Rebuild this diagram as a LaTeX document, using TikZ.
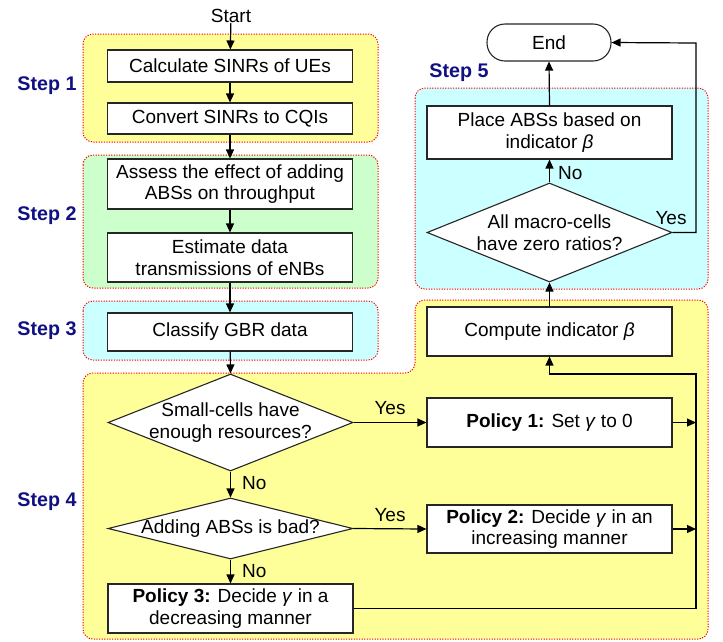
\documentclass[tikz,border=0pt]{standalone}
\usepackage{fontspec}
\setmainfont{Liberation Sans}
\usetikzlibrary{shapes.geometric,arrows.meta}
\definecolor{yel}{RGB}{255,255,153}
\definecolor{grn}{RGB}{204,255,204}
\definecolor{cyn}{RGB}{204,255,255}
\definecolor{stepblue}{RGB}{16,16,128}
\begin{document}
\begin{tikzpicture}[x=1pt,y=-1pt,
  font=\fontsize{19}{21.7}\selectfont,
  region/.style={draw=red, line width=1pt, dash pattern=on 1.2pt off 1.4pt, rounded corners=10pt},
  proc/.style={draw=black!85, fill=white, line width=1.1pt, minimum width=245pt, align=center, inner sep=0pt},
  dec/.style={diamond, draw=black!85, fill=white, line width=1.1pt, minimum width=245pt, inner sep=0pt},
  term/.style={draw=black!85, fill=white, line width=1.1pt, rounded corners=18pt, minimum width=124pt, minimum height=37pt, inner sep=0pt},
  steplabel/.style={text=stepblue, font=\fontsize{19.7}{22}\selectfont\bfseries},
  lbl/.style={inner sep=0pt},
  arr/.style={line width=1.2pt, -{Triangle[length=9pt,width=8pt]}},
  ln/.style={line width=1.2pt}]
\useasboundingbox (0,0) rectangle (723,641);

% regions
\draw[region, fill=yel] (83,34) rectangle (378,142);
\draw[region, fill=grn] (83,155) rectangle (378,288);
\draw[region, fill=cyn] (83,301) rectangle (378,360);
\draw[region, fill=yel] (200,373) -- (415,373) -- (415,300) -- (708,300) -- (708,639) -- (83,639) -- (83,373) -- cycle;
\draw[region, fill=cyn] (415,88) rectangle (708,289);

% step labels
\node[steplabel] (s1) at (47,86) {Step 1};
\node[steplabel] (s2) at (47,216) {Step 2};
\node[steplabel] (s3) at (47,331) {Step 3};
\node[steplabel] (s4) at (47,502) {Step 4};
\node[steplabel] (s5) at (459,73) {Step 5};

% nodes left column
\node[lbl] (start) at (231,16) {Start};
\node[proc, minimum height=32pt] (calc) at (230,66) {Calculate SINRs of UEs};
\node[proc, minimum height=31pt] (conv) at (230,118.5) {Convert SINRs to CQIs};
\node[proc, minimum height=50pt] (assess) at (230,184) {Assess the effect of adding\\ABSs on throughput};
\node[proc, minimum height=49pt] (estim) at (230,257.5) {Estimate data\\transmissions of eNBs};
\node[proc, minimum height=38pt] (class) at (230,332) {Classify GBR data};
\node[dec, minimum height=97pt, label={[align=center]center:Small-cells have\\enough resources?}] (d1) at (230.5,422.5) {};
\node[dec, minimum height=61pt, label={center:Adding ABSs is bad?}] (d2) at (230.5,528.5) {};
\node[proc, minimum height=49pt] (p3) at (230.5,608.5) {\textbf{Policy 3:} Decide \textit{γ} in a\\decreasing manner};

% right column
\node[term] (end) at (549,42.5) {End};
\node[proc, minimum height=53pt] (place) at (549.5,132.5) {Place ABSs based on\\indicator \textit{β}};
\node[dec, minimum height=99pt, label={[align=center]center:All macro-cells\\have zero ratios?}] (d3) at (549.5,232.5) {};
\node[proc, minimum height=49pt] (comp) at (549.5,331.5) {Compute indicator \textit{β}};
\node[proc, minimum height=49pt] (p1) at (549.5,422.5) {\textbf{Policy 1:} Set \textit{γ} to 0};
\node[proc, minimum height=48pt] (p2) at (549.5,529) {\textbf{Policy 2:} Decide \textit{γ} in an\\increasing manner};

% coordinates
\coordinate (j1) at (696,422.5);
\coordinate (j2) at (696,529);
\coordinate (rb) at (696,608.5);
\coordinate (rt) at (696,374);
\coordinate (yb) at (696,232.5);
\coordinate (yt) at (696,43);

% connectors
\draw[arr] (start) -- (calc);
\draw[arr] (calc) -- (conv);
\draw[arr] (conv) -- (assess);
\draw[arr] (assess) -- (estim);
\draw[arr] (estim) -- (class);
\draw[arr] (class) -- (d1.north);
\draw[arr] (d1.east) -- (p1.west);
\draw[arr] (d2.east) -- (p2.west);
\draw[arr] (d1.south) -- (d2.north);
\draw[arr] (d2.south) -- (p3.north);
\draw[arr] (p1.east) -- (j1);
\draw[arr] (p2.east) -- (j2);
\draw[arr] (p3.east) -- (rb) -- (rt) -| (comp.south);
\draw[arr] (comp.north) -- (d3.south);
\draw[arr] (d3.north) -- (place.south);
\draw[arr] (place.north) -- (end.south);
\draw[arr] (d3.east) -- (yb) -- (yt) -- (end.east);

% branch labels
\node[lbl] (y1) at (390,408) {Yes};
\node[lbl] (y2) at (390,515) {Yes};
\node[lbl, anchor=west] (n1) at (242,483) {No};
\node[lbl, anchor=west] (n2) at (242,571) {No};
\node[lbl, anchor=west] (n3) at (558,173) {No};
\node[lbl] (y3) at (671,218) {Yes};
\end{tikzpicture}
\end{document}
